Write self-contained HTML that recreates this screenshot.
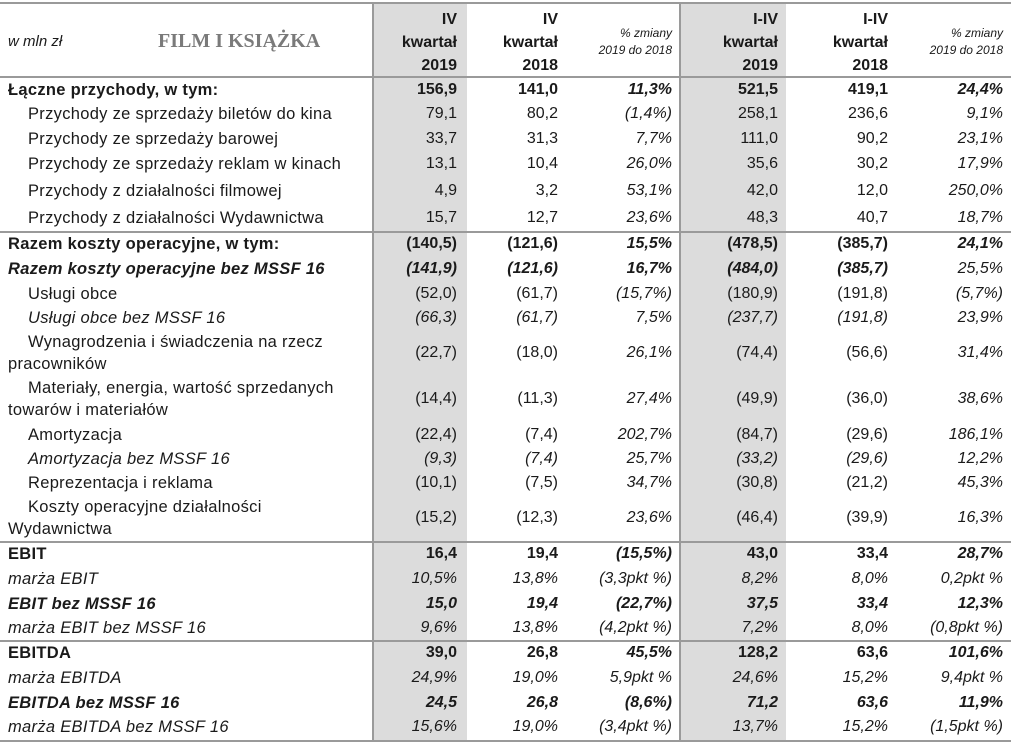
<!DOCTYPE html>
<html><head><meta charset="utf-8">
<style>
html,body{margin:0;padding:0;background:#fff;}
body{width:1013px;height:743px;position:relative;overflow:hidden;font-family:"Liberation Sans",sans-serif;color:#1a1a1a;}
.bg1{position:absolute;left:373px;top:3px;width:94px;height:737px;background:#dcdcdc;}
.bg2{position:absolute;left:680px;top:3px;width:106px;height:737px;background:#dcdcdc;}
.vl{position:absolute;top:3px;width:2px;height:737px;background:#9a9a9a;}
.hl{position:absolute;left:0;width:1011px;height:2px;background:#9a9a9a;}
table{position:absolute;left:0;top:0;border-collapse:collapse;table-layout:fixed;width:1011px;font-size:16px;}
td{padding:0;vertical-align:middle;white-space:nowrap;overflow:visible;line-height:22px;}
td.l{padding-left:8px;font-size:16.5px;letter-spacing:0.3px;}
td.l.i{padding-left:28px;}
td.n{text-align:right;}
td.c1{padding-right:10px;} td.c2{padding-right:12px;} td.c3{padding-right:7px;}
td.c4{padding-right:8px;} td.c5{padding-right:12px;} td.c6{padding-right:8px;}
tr.b td{font-weight:bold;}
tr.it td{font-style:italic;}
td.p{font-style:italic;}
.head td{line-height:23px;font-weight:bold;padding-top:6px;}
.small{font-size:12px;font-style:italic;font-weight:normal;line-height:17px;}
.title{font-family:"Liberation Serif",serif;font-weight:bold;color:#7a7a7a;font-size:20px;letter-spacing:0;}
.w{font-style:italic;font-weight:normal;font-size:15px;letter-spacing:0;}
.wr{white-space:normal;line-height:22px;}
</style></head><body>
<div class="bg1"></div>
<div class="bg2"></div>
<div class="vl" style="left:372px"></div>
<div class="vl" style="left:679px"></div>
<div class="hl" style="top:2px"></div>
<div class="hl" style="top:76px"></div>
<div class="hl" style="top:231px"></div>
<div class="hl" style="top:541px"></div>
<div class="hl" style="top:640px"></div>
<div class="hl" style="top:740px"></div>

<table>
<colgroup><col style="width:372px"><col style="width:95px"><col style="width:103px"><col style="width:109px"><col style="width:107px"><col style="width:114px"><col style="width:111px"></colgroup>
<tr class="head" style="height:78px">
<td class="l" style="position:relative"><span class="w" style="position:absolute;left:8px;top:31px;line-height:22px">w mln zł</span><span class="title" style="position:absolute;left:158px;top:29px;line-height:24px">FILM I KSIĄŻKA</span></td>
<td class="n c1">IV<br>kwartał<br>2019</td>
<td class="n c2">IV<br>kwartał<br>2018</td>
<td class="n c3"><div class="small">% zmiany<br>2019 do 2018</div></td>
<td class="n c4">I-IV<br>kwartał<br>2019</td>
<td class="n c5">I-IV<br>kwartał<br>2018</td>
<td class="n c6"><div class="small">% zmiany<br>2019 do 2018</div></td>
</tr>
<tr class="b" style="height:23px"><td class="l">Łączne przychody, w tym:</td><td class="n c1">156,9</td><td class="n c2">141,0</td><td class="n c3 p">11,3%</td><td class="n c4">521,5</td><td class="n c5">419,1</td><td class="n c6 p">24,4%</td></tr>
<tr style="height:25px"><td class="l i">Przychody ze sprzedaży biletów do kina</td><td class="n c1">79,1</td><td class="n c2">80,2</td><td class="n c3 p">(1,4%)</td><td class="n c4">258,1</td><td class="n c5">236,6</td><td class="n c6 p">9,1%</td></tr>
<tr style="height:25px"><td class="l i">Przychody ze sprzedaży barowej</td><td class="n c1">33,7</td><td class="n c2">31,3</td><td class="n c3 p">7,7%</td><td class="n c4">111,0</td><td class="n c5">90,2</td><td class="n c6 p">23,1%</td></tr>
<tr style="height:26px"><td class="l i">Przychody ze sprzedaży reklam w kinach</td><td class="n c1">13,1</td><td class="n c2">10,4</td><td class="n c3 p">26,0%</td><td class="n c4">35,6</td><td class="n c5">30,2</td><td class="n c6 p">17,9%</td></tr>
<tr style="height:27px"><td class="l i">Przychody z działalności filmowej</td><td class="n c1">4,9</td><td class="n c2">3,2</td><td class="n c3 p">53,1%</td><td class="n c4">42,0</td><td class="n c5">12,0</td><td class="n c6 p">250,0%</td></tr>
<tr style="height:27px"><td class="l i">Przychody z działalności Wydawnictwa</td><td class="n c1">15,7</td><td class="n c2">12,7</td><td class="n c3 p">23,6%</td><td class="n c4">48,3</td><td class="n c5">40,7</td><td class="n c6 p">18,7%</td></tr>
<tr class="b" style="height:26px"><td class="l">Razem koszty operacyjne, w tym:</td><td class="n c1">(140,5)</td><td class="n c2">(121,6)</td><td class="n c3 p">15,5%</td><td class="n c4">(478,5)</td><td class="n c5">(385,7)</td><td class="n c6 p">24,1%</td></tr>
<tr class="b it" style="height:24px"><td class="l">Razem koszty operacyjne bez MSSF 16</td><td class="n c1">(141,9)</td><td class="n c2">(121,6)</td><td class="n c3 p">16,7%</td><td class="n c4">(484,0)</td><td class="n c5">(385,7)</td><td class="n c6" style="font-weight:normal">25,5%</td></tr>
<tr style="height:25px"><td class="l i">Usługi obce</td><td class="n c1">(52,0)</td><td class="n c2">(61,7)</td><td class="n c3 p">(15,7%)</td><td class="n c4">(180,9)</td><td class="n c5">(191,8)</td><td class="n c6 p">(5,7%)</td></tr>
<tr class="it" style="height:24px"><td class="l i">Usługi obce bez MSSF 16</td><td class="n c1">(66,3)</td><td class="n c2">(61,7)</td><td class="n c3">7,5%</td><td class="n c4">(237,7)</td><td class="n c5">(191,8)</td><td class="n c6">23,9%</td></tr>
<tr style="height:46px"><td class="l wr" style="padding-left:8px"><span style="padding-left:20px">Wynagrodzenia i świadczenia na rzecz</span><br>pracowników</td><td class="n c1">(22,7)</td><td class="n c2">(18,0)</td><td class="n c3 p">26,1%</td><td class="n c4">(74,4)</td><td class="n c5">(56,6)</td><td class="n c6 p">31,4%</td></tr>
<tr style="height:46px"><td class="l wr" style="padding-left:8px"><span style="padding-left:20px">Materiały, energia, wartość sprzedanych</span><br>towarów i materiałów</td><td class="n c1">(14,4)</td><td class="n c2">(11,3)</td><td class="n c3 p">27,4%</td><td class="n c4">(49,9)</td><td class="n c5">(36,0)</td><td class="n c6 p">38,6%</td></tr>
<tr style="height:25px"><td class="l i">Amortyzacja</td><td class="n c1">(22,4)</td><td class="n c2">(7,4)</td><td class="n c3 p">202,7%</td><td class="n c4">(84,7)</td><td class="n c5">(29,6)</td><td class="n c6 p">186,1%</td></tr>
<tr class="it" style="height:24px"><td class="l i">Amortyzacja bez MSSF 16</td><td class="n c1">(9,3)</td><td class="n c2">(7,4)</td><td class="n c3">25,7%</td><td class="n c4">(33,2)</td><td class="n c5">(29,6)</td><td class="n c6">12,2%</td></tr>
<tr style="height:24px"><td class="l i">Reprezentacja i reklama</td><td class="n c1">(10,1)</td><td class="n c2">(7,5)</td><td class="n c3 p">34,7%</td><td class="n c4">(30,8)</td><td class="n c5">(21,2)</td><td class="n c6 p">45,3%</td></tr>
<tr style="height:46px"><td class="l wr" style="padding-left:8px"><span style="padding-left:20px">Koszty operacyjne działalności</span><br>Wydawnictwa</td><td class="n c1">(15,2)</td><td class="n c2">(12,3)</td><td class="n c3 p">23,6%</td><td class="n c4">(46,4)</td><td class="n c5">(39,9)</td><td class="n c6 p">16,3%</td></tr>
<tr class="b" style="height:26px"><td class="l">EBIT</td><td class="n c1">16,4</td><td class="n c2">19,4</td><td class="n c3 p">(15,5%)</td><td class="n c4">43,0</td><td class="n c5">33,4</td><td class="n c6 p">28,7%</td></tr>
<tr class="it" style="height:24px"><td class="l">marża EBIT</td><td class="n c1">10,5%</td><td class="n c2">13,8%</td><td class="n c3">(3,3pkt %)</td><td class="n c4">8,2%</td><td class="n c5">8,0%</td><td class="n c6">0,2pkt %</td></tr>
<tr class="b it" style="height:25px"><td class="l">EBIT bez MSSF 16</td><td class="n c1">15,0</td><td class="n c2">19,4</td><td class="n c3">(22,7%)</td><td class="n c4">37,5</td><td class="n c5">33,4</td><td class="n c6">12,3%</td></tr>
<tr class="it" style="height:24px"><td class="l">marża EBIT bez MSSF 16</td><td class="n c1">9,6%</td><td class="n c2">13,8%</td><td class="n c3">(4,2pkt %)</td><td class="n c4">7,2%</td><td class="n c5">8,0%</td><td class="n c6">(0,8pkt %)</td></tr>
<tr class="b" style="height:26px"><td class="l">EBITDA</td><td class="n c1">39,0</td><td class="n c2">26,8</td><td class="n c3 p">45,5%</td><td class="n c4">128,2</td><td class="n c5">63,6</td><td class="n c6 p">101,6%</td></tr>
<tr class="it" style="height:24px"><td class="l">marża EBITDA</td><td class="n c1">24,9%</td><td class="n c2">19,0%</td><td class="n c3">5,9pkt %</td><td class="n c4">24,6%</td><td class="n c5">15,2%</td><td class="n c6">9,4pkt %</td></tr>
<tr class="b it" style="height:25px"><td class="l">EBITDA bez MSSF 16</td><td class="n c1">24,5</td><td class="n c2">26,8</td><td class="n c3">(8,6%)</td><td class="n c4">71,2</td><td class="n c5">63,6</td><td class="n c6">11,9%</td></tr>
<tr class="it" style="height:24px"><td class="l">marża EBITDA bez MSSF 16</td><td class="n c1">15,6%</td><td class="n c2">19,0%</td><td class="n c3">(3,4pkt %)</td><td class="n c4">13,7%</td><td class="n c5">15,2%</td><td class="n c6">(1,5pkt %)</td></tr>
</table>
</body></html>
